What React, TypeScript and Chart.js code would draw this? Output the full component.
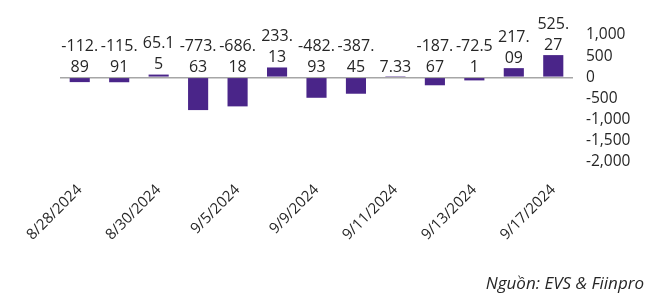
import React, { useEffect, useRef } from "react";
import { Chart, registerables } from "chart.js";

Chart.register(...registerables);

const categories = [
  "8/28/2024", "8/29/2024", "8/30/2024", "9/4/2024", "9/5/2024", "9/6/2024",
  "9/9/2024", "9/10/2024", "9/11/2024", "9/12/2024", "9/13/2024", "9/16/2024", "9/17/2024",
];
const values = [
  -112.89, -115.91, 65.15, -773.63, -686.18, 233.13,
  -482.93, -387.45, 7.33, -187.67, -72.51, 217.09, 525.27,
];
const yMin = -2000;
const yMax = 1000;
const yStep = 500;
const sourceText = "Nguồn: EVS & Fiinpro";

const FONT = "'Open Sans', 'Noto Sans', sans-serif";
const BAR_COLOR = "#4a2589";
const TEXT_COLOR = "#262626";

function wrapLabel(ctx: CanvasRenderingContext2D, text: string, maxW: number): string[] {
  const lines: string[] = [];
  let cur = "";
  for (const ch of text) {
    const next = cur + ch;
    if (cur && ctx.measureText(next).width > maxW) {
      lines.push(cur);
      cur = ch;
    } else {
      cur = next;
    }
  }
  if (cur) lines.push(cur);
  return lines;
}

const dataLabelPlugin = {
  id: "wrappedDataLabels",
  afterDatasetsDraw(chart: any) {
    const ctx: CanvasRenderingContext2D = chart.ctx;
    const meta = chart.getDatasetMeta(0);
    const yScale = chart.scales.y;
    ctx.save();
    ctx.font = `16px ${FONT}`;
    ctx.fillStyle = TEXT_COLOR;
    ctx.textAlign = "center";
    ctx.textBaseline = "middle";
    const maxW = ctx.measureText("-000.").width + 0.5;
    const lineH = 21;
    meta.data.forEach((bar: any, i: number) => {
      const v = values[i];
      const lines = wrapLabel(ctx, v.toFixed(2), maxW);
      const baseY = yScale.getPixelForValue(Math.max(v, 0)) - 10;
      for (let k = 0; k < lines.length; k++) {
        const y = baseY - (lines.length - 1 - k) * lineH;
        ctx.fillText(lines[k], bar.x, y);
      }
    });
    ctx.restore();
  },
};

export default function App() {
  const canvasRef = useRef<HTMLCanvasElement | null>(null);

  useEffect(() => {
    if (!canvasRef.current) return;
    const chart = new Chart(canvasRef.current, {
      type: "bar",
      data: {
        labels: categories,
        datasets: [
          {
            data: values,
            backgroundColor: BAR_COLOR,
            borderWidth: 0,
            barPercentage: 0.51,
            categoryPercentage: 1,
          },
        ],
      },
      options: {
        animation: false,
        responsive: false,
        maintainAspectRatio: false,
        layout: { padding: { left: 60, top: 35, right: 0, bottom: 0 } },
        plugins: {
          legend: { display: false },
          tooltip: { enabled: false },
        },
        scales: {
          x: {
            grid: { display: false, drawTicks: false },
            border: { display: false },
            ticks: {
              autoSkip: false,
              minRotation: 45,
              maxRotation: 45,
              padding: 19,
              color: TEXT_COLOR,
              font: { family: FONT, size: 15 },
              callback: (_v: any, i: number) => (i % 2 === 0 ? categories[i] : ""),
            },
            afterFit: (scale: any) => {
              scale.height = 133;
            },
          },
          y: {
            position: "right",
            min: yMin,
            max: yMax,
            grid: {
              drawTicks: false,
              lineWidth: 1.5,
              color: (c: any) => (c.tick && c.tick.value === 0 ? "#a6a6a6" : "rgba(0,0,0,0)"),
            },
            border: { display: false },
            ticks: {
              stepSize: yStep,
              autoSkip: false,
              padding: 13,
              color: TEXT_COLOR,
              font: { family: FONT, size: 15.5 },
              callback: (v: any) => Number(v).toLocaleString("en-US"),
            },
            afterFit: (scale: any) => {
              scale.width = 74;
            },
          },
        },
      },
      plugins: [dataLabelPlugin],
    } as any);
    return () => chart.destroy();
  }, []);

  return (
    <div style={{ position: "absolute", left: 0, top: 0, width: 647, height: 295, background: "#fff" }}>
      <canvas ref={canvasRef} width={647} height={295} style={{ display: "block" }} />
      <div
        style={{
          position: "absolute",
          right: 3,
          top: 272,
          fontFamily: FONT,
          fontStyle: "italic",
          fontSize: 17,
          color: TEXT_COLOR,
          lineHeight: "22px",
          whiteSpace: "nowrap",
        }}
      >
        {sourceText}
      </div>
    </div>
  );
}
